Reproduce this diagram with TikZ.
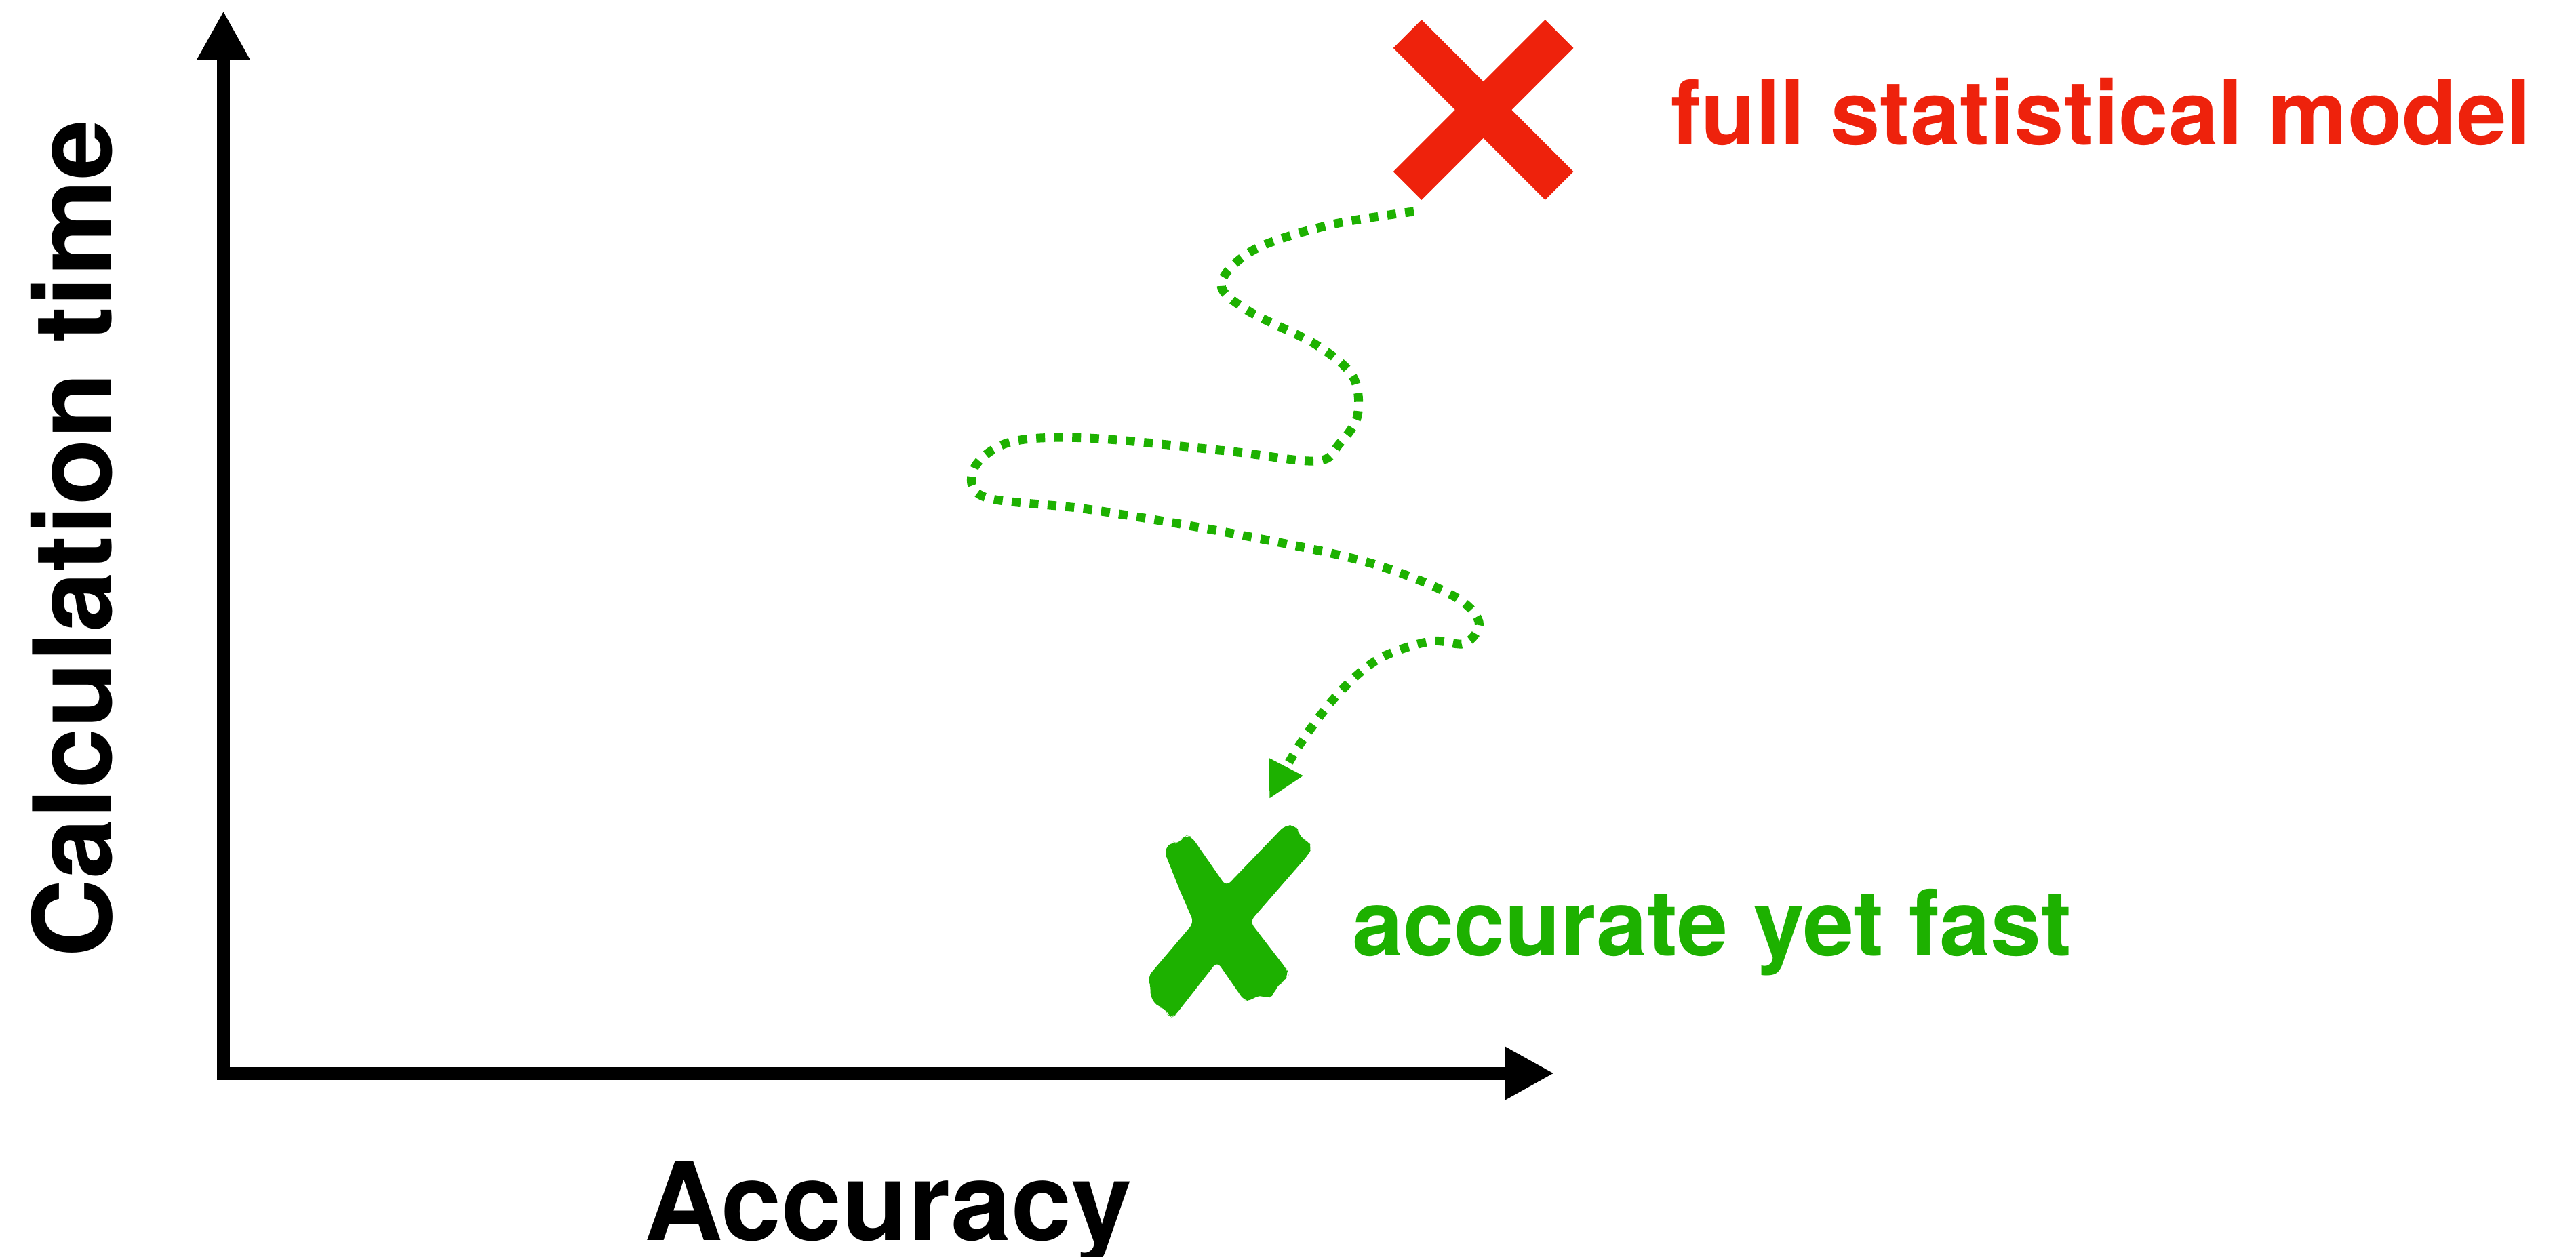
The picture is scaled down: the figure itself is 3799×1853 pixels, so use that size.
\documentclass[tikz,border=0pt]{standalone}
\usepackage{fontspec}
\setmainfont{TeX Gyre Heros}
\usetikzlibrary{arrows.meta}

\definecolor{markred}{RGB}{238,34,12}
\definecolor{markgreen}{RGB}{29,177,0}

\tikzset{
  axis/.style={line width=0.19cm, line join=miter,
    {Triangle[length=0.72cm,width=0.73cm]}-{Triangle[length=0.72cm,width=0.73cm]}},
  axislabel/.style={inner sep=0pt, font=\fontsize{45.5}{50}\selectfont\bfseries},
  redlabel/.style={inner sep=0pt, text=markred, font=\fontsize{37.5}{42}\selectfont\bfseries},
  greenlabel/.style={inner sep=0pt, text=markgreen, font=\fontsize{38.3}{42}\selectfont\bfseries},
  crossbar/.style={markred, line width=0.59cm, line cap=butt},
  route/.style={markgreen, line width=0.13cm, line cap=butt,
    dash pattern=on 0.13cm off 0.135cm,
    -{Triangle[length=0.53cm,width=0.53cm]}},
}

\begin{document}
\begin{tikzpicture}[x=0.01cm, y=-0.01cm]
\useasboundingbox (0,0) rectangle (3799,1853);

% axes
\coordinate (origin) at (329.5,1583);
\coordinate (ytip) at (329.5,16);
\coordinate (xtip) at (2292,1583);
\draw[axis] (ytip) -- (origin) -- (xtip);

\node[axislabel, rotate=90, anchor=base west] (ylabel) at (164,1413) {Calculation time};
\node[axislabel, anchor=base west] (xlabel) at (950,1829) {Accuracy};

% full model marker
\coordinate (redX) at (2187.5,162);
\draw[crossbar] ([shift={(-112,-112)}]redX) -- ([shift={(112,112)}]redX);
\draw[crossbar] ([shift={(-112,112)}]redX) -- ([shift={(112,-112)}]redX);
\node[redlabel, anchor=base west] (fullmodel) at (2464,213) {full statistical model};

% fast model marker (brush-stroke cross)
\coordinate (greenX) at (1805,1362);
\fill[markgreen, rounded corners=2.5pt]
  (1716.7,1255) -- (1728.3,1240.7) -- (1737.3,1246) -- (1742.7,1236.7)
  -- (1750,1232.3) -- (1757.3,1234) -- (1768.3,1250) -- (1808.3,1307.3)
  -- (1895,1217.3) -- (1910,1217.3) -- (1915,1225) -- (1917.3,1236)
  -- (1928.3,1239.3) -- (1935,1250) -- (1929.3,1260.7) -- (1843.3,1359.3)
  -- (1898.3,1430.7) -- (1900,1436.7) -- (1893.3,1448.3) -- (1883.3,1453.3)
  -- (1879.3,1466) -- (1870,1473.3) -- (1856.7,1466.7) -- (1843.3,1476.7)
  -- (1835,1476) -- (1795,1418.3) -- (1733.3,1497.3) -- (1728.3,1500.7)
  -- (1721.7,1496.7) -- (1718.3,1486) -- (1708.3,1486) -- (1696,1470)
  -- (1697.3,1456.7) -- (1692.7,1440.7) -- (1760.7,1360.7) -- (1740,1313.3)
  -- (1726.7,1280) -- cycle;
\node[greenlabel, anchor=base west] (fastmodel) at (1994,1409) {accurate yet fast};

% winding route from the full model to the fast one
\coordinate (routestart) at (2085,312);
\coordinate (routeend) at (1872,1178);
\draw[route] plot[smooth, tension=0.55] coordinates {
  (routestart) (1960,332) (1850,368) (1801,418) (1840,458) (1940,508)
  (1995,555) (2002,613) (1975,655) (1941,680) (1808,665) (1604,646)
  (1490,652) (1437,690) (1452,733) (1604,751) (1808,785) (2012,828)
  (2140,877) (2181,917) (2160,949) (2109,946) (2033,972) (1971,1026)
  (1915,1101) (routeend)};
\end{tikzpicture}
\end{document}
